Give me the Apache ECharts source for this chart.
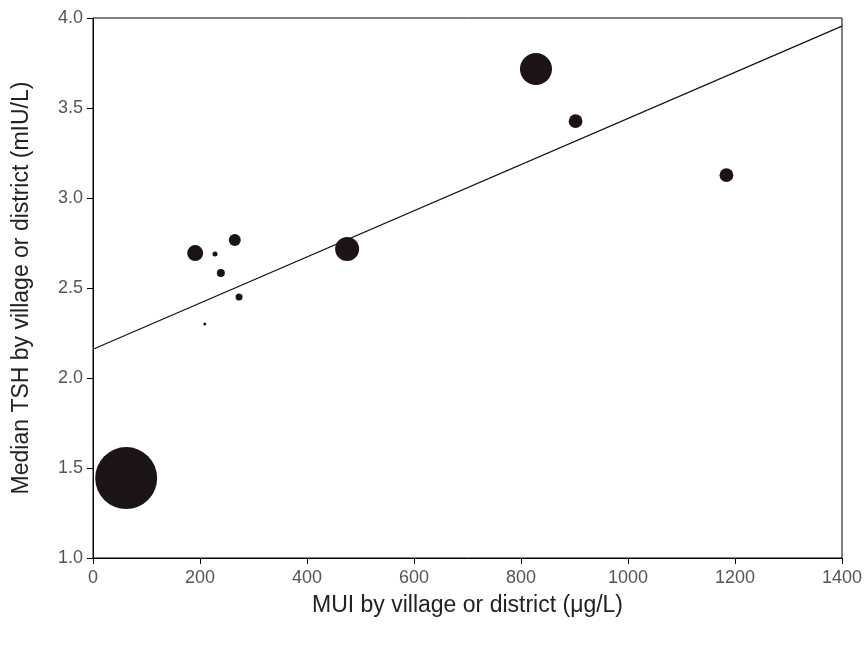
<!DOCTYPE html>
<html>
<head>
<meta charset="utf-8">
<script src="https://cdn.jsdelivr.net/npm/echarts@6/dist/echarts.min.js"></script>
<style>
	html, body { margin: 0; padding: 0; background: #fff; }
	#chart { width: 867px; height: 647px; }
</style>
</head>
<body>
<div id="chart"></div>
<script>
// villages / districts: median urinary iodine vs median TSH, bubble = weight (sample size)
var mui    = [62, 191, 265, 228, 239, 273, 209, 475, 828, 902, 1184];
var tsh    = [1.444, 2.694, 2.767, 2.689, 2.583, 2.45, 2.30, 2.717, 3.717, 3.427, 3.127];
var weight = [3844, 256, 144, 25, 64, 49, 9, 576, 1024, 190, 190];

// regression line end points
var fitX = [0, 1400];
var fitY = [2.16, 3.955];

var xTicks = [0, 200, 400, 600, 800, 1000, 1200, 1400];
var yTicks = [1.0, 1.5, 2.0, 2.5, 3.0, 3.5, 4.0];

var myChart = echarts.init(document.getElementById('chart'));

var pts = [];
for (var i = 0; i < mui.length; i++) {
	pts.push([mui[i], tsh[i], weight[i]]);
}
var fitLine = [];
for (var j = 0; j < fitX.length; j++) {
	fitLine.push([fitX[j], fitY[j]]);
}

var labelFont = {
	color: '#555',
	fontFamily: 'Liberation Sans',
	fontSize: 18
};
var titleFont = {
	color: '#222',
	fontFamily: 'Liberation Sans',
	fontSize: 23
};

var option = {
	animation: false,
	grid: {
		left: 93,
		right: 25,
		top: 18,
		bottom: 89,
		show: true,
		borderColor: '#000',
		borderWidth: 1
	},
	xAxis: {
		type: 'value',
		min: xTicks[0],
		max: xTicks[xTicks.length - 1],
		interval: 200,
		name: 'MUI by village or district (\u03bcg/L)',
		nameLocation: 'middle',
		nameGap: 36,
		nameTextStyle: titleFont,
		axisLine: { lineStyle: { color: '#000', width: 1 } },
		axisTick: { show: true, inside: false, length: 6, lineStyle: { color: '#000' } },
		axisLabel: Object.assign({
			margin: 11,
			formatter: function (v) { return String(v); }
		}, labelFont),
		splitLine: { show: false }
	},
	yAxis: {
		type: 'value',
		min: yTicks[0],
		max: yTicks[yTicks.length - 1],
		interval: 0.5,
		name: 'Median TSH by village or district (mIU/L)',
		nameLocation: 'middle',
		nameGap: 60,
		nameTextStyle: titleFont,
		axisLine: { lineStyle: { color: '#000', width: 1 } },
		axisTick: { show: true, inside: false, length: 6, lineStyle: { color: '#000' } },
		axisLabel: Object.assign({
			margin: 10,
			formatter: function (v) { return v.toFixed(1); }
		}, labelFont),
		splitLine: { show: false }
	},
	series: [{
		type: 'line',
		data: fitLine,
		symbol: 'none',
		lineStyle: { color: '#111', width: 1.2 },
		z: 2
	}, {
		type: 'scatter',
		data: pts,
		symbolSize: function (d) { return Math.sqrt(d[2]); },
		itemStyle: { color: '#1c1314', opacity: 1 },
		z: 3
	}]
};

myChart.setOption(option);
</script>
</body>
</html>
